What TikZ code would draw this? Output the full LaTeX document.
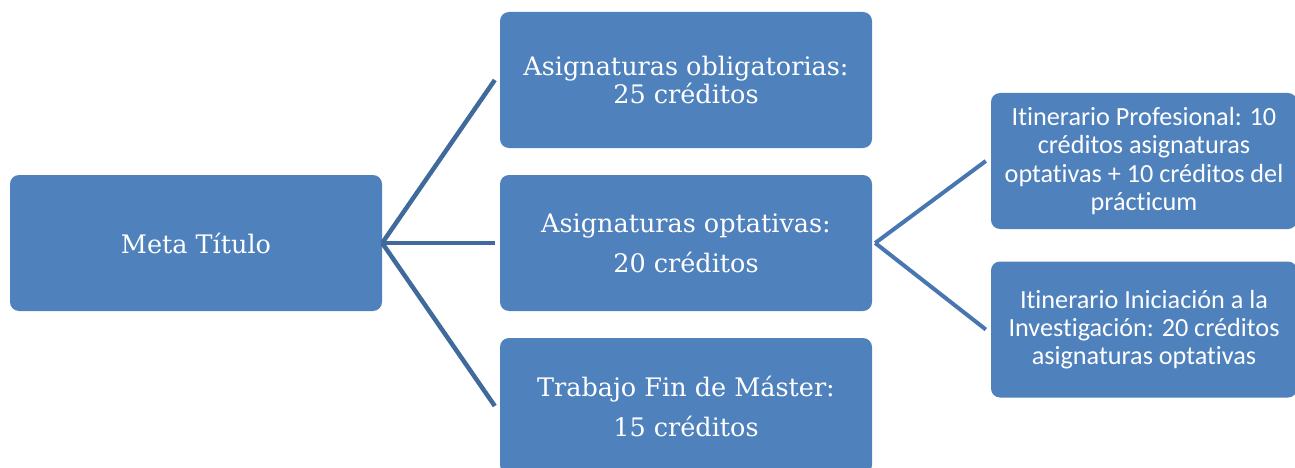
\documentclass[tikz,border=0pt]{standalone}
\usepackage{fontspec}
\setmainfont{DejaVu Serif}
\newfontfamily\calib[Ligatures={NoCommon}]{Carlito}
\definecolor{boxblue}{RGB}{79,129,189}
\definecolor{lineblue}{RGB}{64,106,155}
\definecolor{lineblueb}{RGB}{72,118,176}
\begin{document}
\begin{tikzpicture}[x=1pt,y=-1pt,
  box/.style={draw=none, fill=boxblue, rounded corners=9pt, text=white, align=center, inner sep=0pt},
  midbox/.style={box, minimum width=372pt, minimum height=136pt, font=\fontsize{25.5}{28}\selectfont},
  sidebox/.style={box, minimum width=306pt, minimum height=136pt, font=\calib\fontsize{26.2}{28.3}\selectfont},
  conn/.style={draw=lineblue, line width=4.5pt},
  connb/.style={draw=lineblueb, line width=4pt}]
\useasboundingbox (0,0) rectangle (1295,468);
\node[midbox] (meta) at (196,243) {Meta Título};
\node[midbox] (a) at (686,80) {Asignaturas obligatorias:\\25 créditos};
\node[midbox] (b) at (686,243) {Asignaturas optativas:\\[12pt]20 créditos};
\node[midbox] (c) at (686,406) {Trabajo Fin de Máster:\\[12pt]15 créditos};
\node[sidebox] (d) at (1144,161) {Itinerario Profesional: 10\\créditos asignaturas\\optativas + 10 créditos del\\prácticum};
\node[sidebox] (e) at (1144,329.5) {Itinerario Iniciación a la\\Investigación: 20 créditos\\asignaturas optativas};
\draw[conn] (meta.east) -- ([xshift=-5pt]a.west);
\draw[conn] (meta.east) -- ([xshift=-5pt]b.west);
\draw[conn] (meta.east) -- ([xshift=-5pt]c.west);
\draw[connb] ([xshift=3pt]b.east) -- ([xshift=-5pt]d.west);
\draw[connb] ([xshift=3pt]b.east) -- ([xshift=-5pt]e.west);
\end{tikzpicture}
\end{document}
